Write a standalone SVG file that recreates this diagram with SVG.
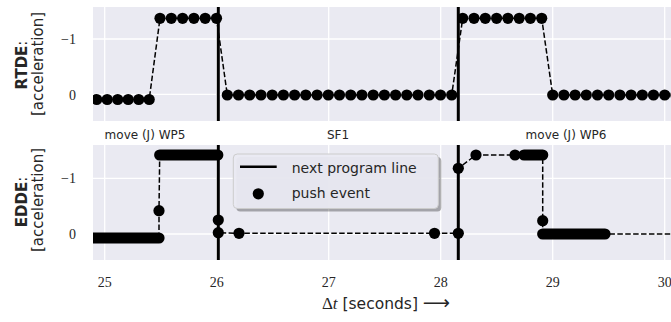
<svg xmlns="http://www.w3.org/2000/svg" xmlns:xlink="http://www.w3.org/1999/xlink" width="671" height="322" viewBox="0 0 671 322">
<style>
.bg{fill:#eaeaf2}
.grid{stroke:#ffffff;stroke-width:1.3;fill:none}
.dash{stroke:#000;stroke-width:1.5;fill:none;stroke-dasharray:5.5,2.4}
.bar{stroke:#000;stroke-width:11.2;stroke-linecap:round;fill:none}
.vline{stroke:#000;stroke-width:3;fill:none}
.tick{font-family:"Liberation Serif","DejaVu Serif",serif;font-size:14px;fill:#262626}
.seg{font-family:"DejaVu Sans",sans-serif;font-size:12px;fill:#262626;text-anchor:middle}
.ylab{font-family:"DejaVu Sans",sans-serif;font-size:15px;fill:#262626;text-anchor:middle}
.leg{font-family:"DejaVu Sans",sans-serif;font-size:14px;fill:#262626}
</style>
<defs>
<circle id="dot" r="5.6" fill="#000"/>
<clipPath id="cTop"><rect x="93" y="7" width="578" height="114"/></clipPath>
<clipPath id="cBot"><rect x="93" y="145" width="578" height="115"/></clipPath>
</defs>

<g id="axes-top">
<rect class="bg" x="93" y="7" width="578" height="114"/>
<path class="grid" d="M104.7 7V121M216.7 7V121M328.7 7V121M440.7 7V121M552.7 7V121M664.7 7V121M93 39H671M93 94.3H671"/>
<text class="tick" x="76" y="44" text-anchor="end">−1</text>
<text class="tick" x="76" y="100" text-anchor="end">0</text>
<text class="ylab" transform="translate(27,65) rotate(-90)"><tspan font-weight="bold">RTDE</tspan>:</text>
<text class="ylab" transform="translate(43,64) rotate(-90)">[acceleration]</text>
</g>

<g id="axes-bottom">
<rect class="bg" x="93" y="145" width="578" height="115"/>
<path class="grid" d="M104.7 145V260M216.7 145V260M328.7 145V260M440.7 145V260M552.7 145V260M664.7 145V260M93 178.3H671M93 234H671"/>
<text class="tick" x="76" y="183" text-anchor="end">−1</text>
<text class="tick" x="76" y="239" text-anchor="end">0</text>
<text class="ylab" transform="translate(27,202) rotate(-90)"><tspan font-weight="bold">EDDE</tspan>:</text>
<text class="ylab" transform="translate(43,200) rotate(-90)">[acceleration]</text>
</g>

<g id="connectors">
<g clip-path="url(#cTop)">
<path class="dash" d="M96.7 99.5H149.2L160 18.3H216.5L227.3 95H451.7L462.7 18.3H541.7L552.7 95H680"/>
</g>
<g clip-path="url(#cBot)">
<path class="dash" d="M80 238H159L159 210.7L159.7 155H217.8L218.3 220L218.3 232.7L239 233.3H434.5L458.3 233.3L458.3 168.3L476 155H542.7L542.7 220.7L542.7 234H680"/>
</g>
</g>

<g id="rtde-events" clip-path="url(#cTop)">
<use href="#dot" x="96.7" y="99.5"/><use href="#dot" x="107.2" y="99.5"/><use href="#dot" x="117.7" y="99.5"/><use href="#dot" x="128.2" y="99.5"/><use href="#dot" x="138.7" y="99.5"/><use href="#dot" x="149.2" y="99.5"/>
<use href="#dot" x="160" y="18.3"/><use href="#dot" x="171.3" y="18.3"/><use href="#dot" x="182.6" y="18.3"/><use href="#dot" x="193.9" y="18.3"/><use href="#dot" x="205.2" y="18.3"/><use href="#dot" x="216.5" y="18.3"/>
<use href="#dot" x="227.3" y="95"/><use href="#dot" x="238.5" y="95"/><use href="#dot" x="249.7" y="95"/><use href="#dot" x="261" y="95"/><use href="#dot" x="272.2" y="95"/><use href="#dot" x="283.4" y="95"/><use href="#dot" x="294.6" y="95"/><use href="#dot" x="305.8" y="95"/><use href="#dot" x="317.1" y="95"/><use href="#dot" x="328.3" y="95"/><use href="#dot" x="339.5" y="95"/><use href="#dot" x="350.7" y="95"/><use href="#dot" x="361.9" y="95"/><use href="#dot" x="373.2" y="95"/><use href="#dot" x="384.4" y="95"/><use href="#dot" x="395.6" y="95"/><use href="#dot" x="406.8" y="95"/><use href="#dot" x="418" y="95"/><use href="#dot" x="429.3" y="95"/><use href="#dot" x="440.5" y="95"/><use href="#dot" x="451.7" y="95"/>
<use href="#dot" x="462.7" y="18.3"/><use href="#dot" x="474" y="18.3"/><use href="#dot" x="485.3" y="18.3"/><use href="#dot" x="496.6" y="18.3"/><use href="#dot" x="507.9" y="18.3"/><use href="#dot" x="519.2" y="18.3"/><use href="#dot" x="530.4" y="18.3"/><use href="#dot" x="541.7" y="18.3"/>
<use href="#dot" x="552.7" y="95"/><use href="#dot" x="563.9" y="95"/><use href="#dot" x="575.1" y="95"/><use href="#dot" x="586.3" y="95"/><use href="#dot" x="597.5" y="95"/><use href="#dot" x="608.7" y="95"/><use href="#dot" x="619.9" y="95"/><use href="#dot" x="631.1" y="95"/><use href="#dot" x="642.3" y="95"/><use href="#dot" x="653.5" y="95"/><use href="#dot" x="664.7" y="95"/><use href="#dot" x="675.9" y="95"/>
<path class="vline" d="M218.3 7V121M458.3 7V121"/>
</g>

<g id="edde-events" clip-path="url(#cBot)">
<path class="bar" d="M80 238H159M159.7 155H217.8M524 155H542.7M542.7 234H605"/>
<use href="#dot" x="159" y="210.7"/>
<use href="#dot" x="218.3" y="220"/><use href="#dot" x="218.3" y="232.7"/>
<use href="#dot" x="239" y="233.3"/><use href="#dot" x="434.5" y="233.3"/>
<use href="#dot" x="458.3" y="233.3"/><use href="#dot" x="458.3" y="168.3"/>
<use href="#dot" x="476" y="155"/><use href="#dot" x="515" y="155"/>
<use href="#dot" x="542.7" y="220.7"/>
<path class="vline" d="M218.3 145V260M458.3 145V260"/>
</g>

<g id="segment-labels">
<text class="seg" x="145" y="138.5">move (J) WP5</text>
<text class="seg" x="338" y="139">SF1</text>
<text class="seg" x="566" y="139">move (J) WP6</text>
</g>

<g id="legend">
<rect x="236.3" y="157" width="205" height="54.5" rx="4" fill="#000" opacity="0.3"/>
<rect x="233.3" y="154" width="205" height="54.5" rx="4" fill="#eaeaf2" fill-opacity="0.95" stroke="#cccccc" stroke-width="1"/>
<line x1="240" y1="166.7" x2="276.7" y2="166.7" stroke="#000" stroke-width="2.6"/>
<text class="leg" x="291.7" y="172.5">next program line</text>
<use href="#dot" x="258.3" y="193.8"/>
<text class="leg" x="291.7" y="197.5">push event</text>
</g>

<g id="x-axis">
<text class="tick" x="104.7" y="287" text-anchor="middle">25</text>
<text class="tick" x="216.7" y="287" text-anchor="middle">26</text>
<text class="tick" x="328.7" y="287" text-anchor="middle">27</text>
<text class="tick" x="440.7" y="287" text-anchor="middle">28</text>
<text class="tick" x="552.7" y="287" text-anchor="middle">29</text>
<text class="tick" x="664.7" y="287" text-anchor="middle">30</text>
<text x="386" y="309" text-anchor="middle" font-family="DejaVu Sans, sans-serif" font-size="15.5" fill="#262626"><tspan font-family="Liberation Serif, serif" font-size="17">Δ<tspan font-style="italic">t</tspan></tspan> [seconds] <tspan font-size="19">⟶</tspan></text>
</g>
</svg>
